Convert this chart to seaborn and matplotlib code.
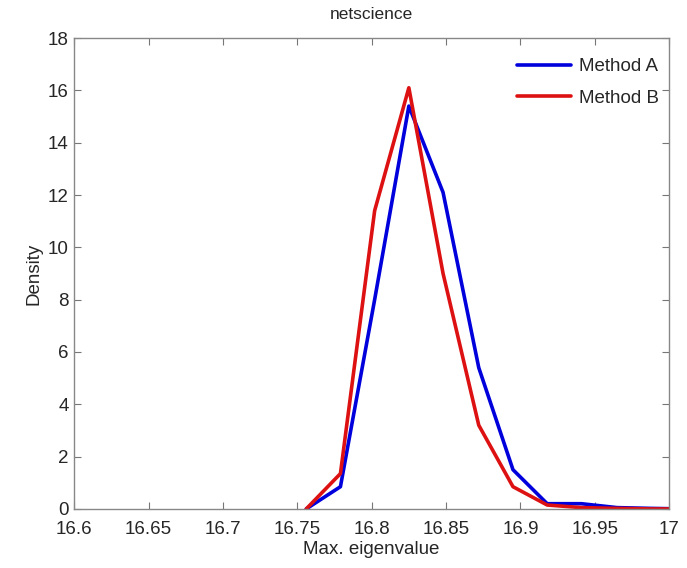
import numpy as np
import pandas as pd
import matplotlib
matplotlib.use("Agg")
import matplotlib.pyplot as plt
import seaborn as sns

x_vals = [16.756, 16.779, 16.802, 16.825, 16.848, 16.872, 16.895, 16.918, 16.941, 16.965, 16.988, 17.011]
method_a = [0.0, 0.85, 8.0, 15.4, 12.1, 5.4, 1.5, 0.2, 0.2, 0.05, 0.02, 0.0]
method_b = [0.0, 1.35, 11.4, 16.1, 9.0, 3.2, 0.85, 0.15, 0.05, 0.02, 0.0, 0.0]

df = pd.concat([
    pd.DataFrame({"x": x_vals, "Density": method_a, "Method": "Method A"}),
    pd.DataFrame({"x": x_vals, "Density": method_b, "Method": "Method B"}),
])

sns.set_style("white")
plt.rcParams["font.family"] = ["Liberation Sans", "DejaVu Sans"]

fig = plt.figure(figsize=(6.87, 5.68), dpi=100)
ax = fig.add_axes([0.108, 0.104, 0.866, 0.829])
sns.lineplot(data=df, x="x", y="Density", hue="Method",
             palette={"Method A": "#0000dd", "Method B": "#dd1111"},
             linewidth=2.6, ax=ax, sort=False)

ax.set_xlim(16.6, 17.0)
ax.set_ylim(0, 18)
ax.set_xticks([16.6, 16.65, 16.7, 16.75, 16.8, 16.85, 16.9, 16.95, 17.0])
ax.set_xticklabels(["16.6", "16.65", "16.7", "16.75", "16.8", "16.85", "16.9", "16.95", "17"])
ax.set_yticks(range(0, 19, 2))
ax.tick_params(direction="in", length=5, width=0.8, color="#777777",
               labelsize=13.5, top=True, right=True, bottom=True, left=True)
ax.tick_params(axis="x", pad=9)
ax.tick_params(axis="y", pad=4)
for s in ax.spines.values():
    s.set_color("#888888")
    s.set_linewidth(1.0)
ax.set_xlabel("Max. eigenvalue", fontsize=13.5, labelpad=2)
ax.set_ylabel("Density", fontsize=13.5, labelpad=4)
ax.set_title("netscience", fontsize=12.5, pad=14)
leg = ax.legend(loc="upper right", bbox_to_anchor=(1.005, 0.985), frameon=False,
                fontsize=13.5, handlelength=2.9, handletextpad=0.4,
                borderaxespad=0.3, labelspacing=0.75)
fig.savefig("out.png", dpi=100)
